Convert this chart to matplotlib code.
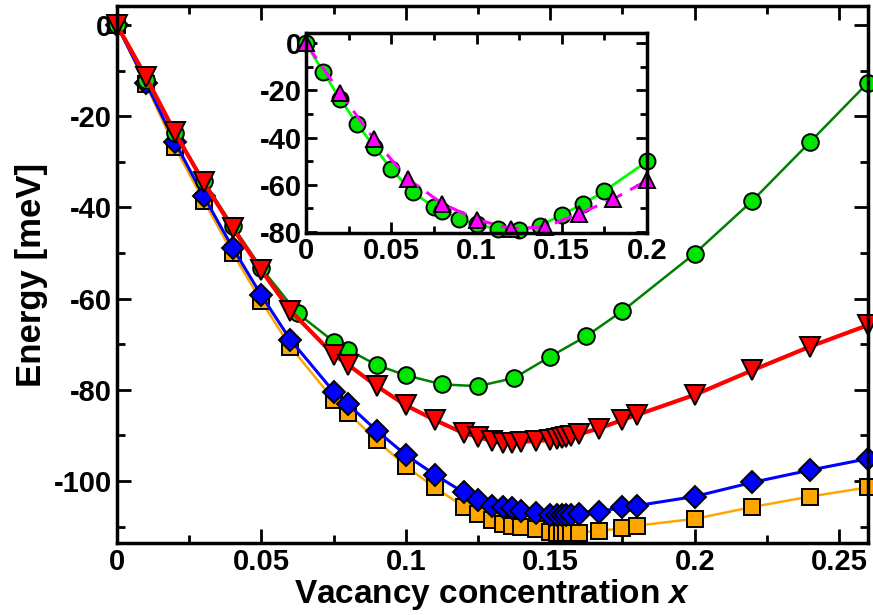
import numpy as np
import matplotlib
matplotlib.use('Agg')
import matplotlib.pyplot as plt
from matplotlib.ticker import MultipleLocator, FormatStrFormatter

plt.rcParams['font.family'] = ['Liberation Sans', 'DejaVu Sans']
plt.rcParams['font.weight'] = 'bold'
plt.rcParams['axes.unicode_minus'] = False
plt.rcParams['mathtext.fontset'] = 'custom'
plt.rcParams['mathtext.it'] = 'Liberation Sans:italic:bold'

# green circles (main + inset)
gx = [0, 0.01, 0.02, 0.03, 0.04, 0.05, 0.0625, 0.075, 0.08, 0.09, 0.1, 0.1125, 0.125,
      0.1375, 0.15, 0.1625, 0.175, 0.2, 0.22, 0.24, 0.26]
gy = [0, -12.0, -23.7, -34.1, -44.0, -53.3, -63.2, -69.4, -71.2, -74.6, -76.8, -78.8, -79.2,
      -77.4, -72.7, -68.2, -62.7, -50.1, -38.5, -25.6, -12.6]

# shared x for red / blue / orange
cx = [0, 0.01, 0.02, 0.03, 0.04, 0.05, 0.06, 0.075, 0.08, 0.09, 0.1, 0.11, 0.12, 0.125,
      0.13, 0.1335, 0.1367, 0.14, 0.145, 0.15, 0.1522, 0.154, 0.1556, 0.1573, 0.16,
      0.1667, 0.175, 0.18, 0.2, 0.22, 0.24, 0.26]
ry = [0, -11.3, -23.5, -34.5, -44.5, -53.8, -62.6, -72.3, -74.5, -79.2, -83.4, -86.6, -89.5,
      -90.3, -91.3, -91.7, -91.7, -91.4, -91.2, -91.0, -90.7, -90.5, -90.3, -90.1, -89.7,
      -88.5, -86.6, -85.5, -81.1, -75.7, -70.5, -65.8]
by = [0, -12.6, -25.6, -37.5, -48.8, -59.3, -69.0, -80.4, -83.2, -89.0, -94.3, -98.6, -102.5,
      -104.1, -105.4, -105.7, -106.0, -106.5, -107.1, -107.4, -107.4, -107.4, -107.4, -107.4,
      -107.3, -106.7, -105.8, -105.4, -103.4, -100.3, -97.6, -95.1]
oy = [0, -13.0, -26.7, -38.5, -50.0, -60.6, -70.5, -82.2, -85.1, -91.1, -96.8, -101.4, -105.6,
      -107.3, -108.6, -109.5, -109.8, -110.1, -110.6, -111.1, -111.3, -111.3, -111.3, -111.3,
      -111.3, -110.9, -110.4, -109.8, -108.3, -105.7, -103.4, -101.4]

# magenta triangles (inset)
mx = [0, 0.02, 0.04, 0.06, 0.08, 0.1, 0.12, 0.14, 0.16, 0.18, 0.2]
my = [0, -21.0, -40.8, -57.7, -68.0, -74.8, -78.6, -78.0, -72.3, -66.2, -58.2]

fig = plt.figure(figsize=(8.73, 6.15), dpi=100)
ax = fig.add_axes([117/873, 1-543/615, 751/873, 537/615])

ax.plot(cx, oy, '-s', color='orange', lw=1.8, ms=11, mfc='orange', mec='black', mew=1.4, clip_on=False)
ax.plot(cx, by, '-D', color='blue', lw=2.2, ms=11, mfc='blue', mec='black', mew=1.4, clip_on=False)
ax.plot(gx, gy, '-o', color='green', lw=1.8, ms=12, mfc='#00e600', mec='black', mew=1.4, clip_on=False)
ax.plot(cx, ry, '-v', color='red', lw=3, ms=14, mfc='red', mec='black', mew=1.4, clip_on=False)

ax.set_xlim(0, 0.26)
ax.set_ylim(-113.6, 4.2)
ax.xaxis.set_major_locator(MultipleLocator(0.05))
ax.xaxis.set_minor_locator(MultipleLocator(0.025))
ax.yaxis.set_major_locator(MultipleLocator(20))
ax.yaxis.set_minor_locator(MultipleLocator(10))
ax.xaxis.set_major_formatter(FormatStrFormatter('%g'))
ax.tick_params(which='both', direction='in', top=True, right=True, width=2, labelsize=21)
ax.tick_params(which='major', length=10)
ax.tick_params(which='minor', length=6)
for s in ax.spines.values():
    s.set_linewidth(2.5)
ax.set_xlabel(r'Vacancy concentration $x$', fontsize=24, fontweight='bold', labelpad=1)
ax.set_ylabel('Energy [meV]', fontsize=25, fontweight='bold', labelpad=4)

# inset
ins = fig.add_axes([306/873, 1-233/615, 341/873, 200/615])
gxa = np.array(gx)
gya = np.array(gy)
keep = gxa <= 0.2
ins.plot(gxa[keep], gya[keep], '-o', color='#00ff00', lw=2, ms=11.5, mfc='#00e600', mec='black', mew=1.4, clip_on=False)
ins.plot(mx, my, '--^', color='magenta', lw=2.2, dashes=(6, 3), ms=11.5, mfc='magenta', mec='black', mew=1.4, clip_on=False)
ins.set_xlim(0, 0.2)
ins.set_ylim(-80.5, 4.4)
ins.xaxis.set_major_locator(MultipleLocator(0.05))
ins.xaxis.set_minor_locator(MultipleLocator(0.025))
ins.yaxis.set_major_locator(MultipleLocator(20))
ins.yaxis.set_minor_locator(MultipleLocator(10))
ins.xaxis.set_major_formatter(FormatStrFormatter('%g'))
ins.tick_params(which='both', direction='in', top=True, right=True, width=2, labelsize=21, pad=3)
ins.tick_params(which='major', length=8)
ins.tick_params(which='minor', length=5)
for s in ins.spines.values():
    s.set_linewidth(2.5)

fig.savefig('out.png', dpi=100)
